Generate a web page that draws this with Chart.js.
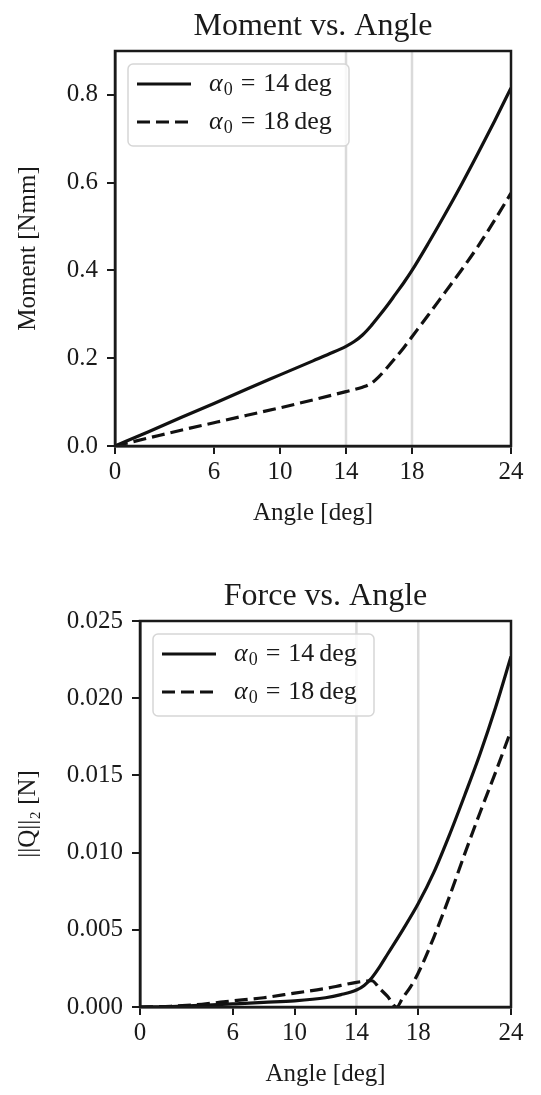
<!DOCTYPE html>
<html>
<head>
<meta charset="utf-8">
<script src="https://cdn.jsdelivr.net/npm/chart.js@4.4.1/dist/chart.umd.min.js"></script>
<style>
  body { margin: 0; background: #fff; }
  .box { position: absolute; left: 0; width: 541px; }
  #top { top: 0; height: 545px; }
  #bottom { top: 545px; height: 550px; }
</style>
</head>
<body>
<div class="box" id="top"><canvas id="momentChart"></canvas></div>
<div class="box" id="bottom"><canvas id="forceChart"></canvas></div>
<script>
// valores
const alphaZero = [14, 18];
const angleTicks = [0, 6, 10, 14, 18, 24];
const momentTicks = [0, 0.2, 0.4, 0.6, 0.8];
const forceTicks = [0, 0.005, 0.01, 0.015, 0.02, 0.025];

const momentAngles14 = [0, 2, 4, 6, 8, 10, 12, 13, 14, 14.5, 15, 15.5, 16, 16.5, 17, 17.5, 18, 19, 20, 21, 22, 23, 24];
const moment14 = [0, 0.032, 0.065, 0.097, 0.13, 0.162, 0.194, 0.21, 0.227, 0.238, 0.253, 0.273, 0.296, 0.32, 0.346, 0.372, 0.4, 0.4625, 0.528, 0.596, 0.667, 0.74, 0.816];
const momentAngles18 = [0, 2, 4, 6, 8, 10, 12, 14, 15, 15.5, 16, 16.5, 17, 17.5, 18, 19, 20, 21, 22, 23, 24];
const moment18 = [0, 0.018, 0.036, 0.053, 0.07, 0.087, 0.105, 0.124, 0.134, 0.142, 0.158, 0.179, 0.201, 0.224, 0.249, 0.299, 0.35, 0.401, 0.455, 0.514, 0.576];

const forceAngles14 = [0, 2, 4, 6, 8, 10, 12, 13, 14, 14.5, 15, 15.5, 16, 17, 18, 19, 20, 21, 22, 23, 24];
const force14 = [0, 0.00003, 0.0001, 0.0002, 0.0003, 0.0004, 0.0006, 0.0008, 0.0011, 0.0014, 0.0019, 0.0026, 0.0034, 0.005, 0.0067, 0.0087, 0.0111, 0.0137, 0.0164, 0.0194, 0.0227];
const forceAngles18 = [0, 2, 4, 6, 8, 10, 12, 13, 14, 15, 15.5, 16, 16.6, 17, 17.5, 18, 19, 20, 21, 22, 23, 24];
const force18 = [0, 0.00005, 0.00018, 0.0004, 0.0006, 0.0009, 0.0012, 0.0014, 0.0016, 0.0017, 0.0012, 0.0007, 0, 0.0006, 0.0013, 0.0022, 0.0045, 0.0071, 0.0099, 0.0126, 0.0152, 0.0179];

const SERIF = "'Liberation Serif', 'DejaVu Serif', serif";
const INK = "#1a1a1a";

Chart.defaults.font.family = SERIF;
Chart.defaults.font.size = 25;
Chart.defaults.color = INK;

const toPoints = (xs, ys) => xs.map((x, i) => ({ x: x, y: ys[i] }));

// título centrado na área do gráfico (como no matplotlib)
const titlePlugin = {
  id: "axesTitle",
  afterDraw(chart) {
    const { ctx, chartArea } = chart;
    const o = chart.options.plugins.axesTitle;
    ctx.save();
    ctx.font = "32px " + SERIF;
    ctx.fillStyle = INK;
    ctx.textAlign = "center";
    ctx.textBaseline = "alphabetic";
    ctx.fillText(o.text, (chartArea.left + chartArea.right) / 2, chartArea.top - o.gap);
    ctx.restore();
  },
};

// moldura completa (topo e direita incluídos)
const framePlugin = {
  id: "frame",
  afterDatasetsDraw(chart) {
    const { ctx, chartArea } = chart;
    ctx.save();
    ctx.lineWidth = 2.5;
    ctx.strokeStyle = INK;
    ctx.strokeRect(chartArea.left, chartArea.top, chartArea.right - chartArea.left, chartArea.bottom - chartArea.top);
    ctx.restore();
  },
};

// linhas cinzas verticais em alpha0
const markerPlugin = {
  id: "markers",
  beforeDatasetsDraw(chart) {
    const { ctx, chartArea, scales } = chart;
    ctx.save();
    ctx.lineWidth = 2.5;
    ctx.strokeStyle = "#dadada";
    alphaZero.forEach((a) => {
      const px = scales.x.getPixelForValue(a);
      ctx.beginPath();
      ctx.moveTo(px, chartArea.top);
      ctx.lineTo(px, chartArea.bottom);
      ctx.stroke();
    });
    ctx.restore();
  },
};

// legenda com subscrito
const legendPlugin = {
  id: "mathLegend",
  afterDraw(chart) {
    const { ctx, chartArea } = chart;
    const x0 = chartArea.left + 13;
    const y0 = chartArea.top + 13;
    ctx.save();
    ctx.beginPath();
    ctx.roundRect(x0, y0, 221, 82, 5);
    ctx.fillStyle = "rgba(255,255,255,0.8)";
    ctx.fill();
    ctx.lineWidth = 1.5;
    ctx.strokeStyle = "#d6d6d6";
    ctx.stroke();
    chart.data.datasets.forEach((ds, i) => {
      const cy = y0 + 20 + i * 38;
      ctx.beginPath();
      ctx.setLineDash(ds.borderDash || []);
      ctx.lineWidth = ds.borderWidth;
      ctx.strokeStyle = ds.borderColor;
      ctx.moveTo(x0 + 9, cy);
      ctx.lineTo(x0 + 63, cy);
      ctx.stroke();
      ctx.setLineDash([]);

      let tx = x0 + 81;
      ctx.fillStyle = INK;
      ctx.textBaseline = "middle";
      ctx.textAlign = "left";
      ctx.font = "italic 26px " + SERIF;
      ctx.fillText("α", tx, cy);
      tx += ctx.measureText("α").width + 1;
      ctx.font = "18px " + SERIF;
      ctx.fillText("0", tx, cy + 6);
      tx += ctx.measureText("0").width + 8;
      ctx.font = "26px " + SERIF;
      ctx.fillText("=", tx, cy);
      tx += ctx.measureText("=").width + 8;
      const num = String(alphaZero[i]);
      ctx.fillText(num, tx, cy);
      tx += ctx.measureText(num).width + 5;
      ctx.fillText("deg", tx, cy);
    });
    ctx.restore();
  },
};

function makeChart(id, cfg) {
  const ctx = document.getElementById(id).getContext("2d");
  return new Chart(ctx, {
    type: "line",
    data: {
      datasets: [
        {
          label: "α₀ = " + alphaZero[0] + " deg",
          data: toPoints(cfg.xs14, cfg.ys14),
          borderColor: "#111111",
          borderWidth: 3.2,
          pointRadius: 0,
          cubicInterpolationMode: "monotone",
        },
        {
          label: "α₀ = " + alphaZero[1] + " deg",
          data: toPoints(cfg.xs18, cfg.ys18),
          borderColor: "#111111",
          borderWidth: 3.2,
          borderDash: [13, 6],
          pointRadius: 0,
          cubicInterpolationMode: "monotone",
        },
      ],
    },
    options: {
      responsive: true,
      maintainAspectRatio: false,
      animation: false,
      layout: { padding: { left: 0, right: 30, top: cfg.padTop, bottom: cfg.padBottom } },
      plugins: {
        legend: { display: false },
        tooltip: { enabled: false },
        title: { display: false },
        axesTitle: { text: cfg.title, gap: 16 },
      },
      scales: {
        x: {
          type: "linear",
          min: 0,
          max: 24,
          afterBuildTicks: (scale) => {
            scale.ticks = angleTicks.map((v) => ({ value: v }));
          },
          afterFit: (scale) => {
            scale.height = 82;
          },
          ticks: { autoSkip: false, maxRotation: 0, padding: 3, color: INK },
          grid: { drawOnChartArea: false, drawTicks: true, tickLength: 8, color: INK, lineWidth: 2 },
          border: { display: true, color: INK, width: 2.5 },
          title: { display: true, text: "Angle [deg]", color: INK, padding: { top: 0, bottom: 0 } },
        },
        y: {
          type: "linear",
          min: 0,
          max: cfg.yMax,
          afterBuildTicks: (scale) => {
            scale.ticks = cfg.yTicks.map((v) => ({ value: v }));
          },
          afterFit: (scale) => {
            scale.width = cfg.yWidth;
          },
          ticks: {
            padding: 9,
            color: INK,
            callback: (v) => Number(v).toFixed(cfg.decimals),
          },
          grid: { drawOnChartArea: false, drawTicks: true, tickLength: 8, color: INK, lineWidth: 2 },
          border: { display: true, color: INK, width: 2.5 },
          title: { display: true, text: cfg.yLabel, color: INK, padding: { top: 13, bottom: 0 } },
        },
      },
    },
    plugins: [markerPlugin, framePlugin, legendPlugin, titlePlugin],
  });
}

makeChart("momentChart", {
  title: "Moment vs. Angle",
  padTop: 51,
  padBottom: 17,
  xs14: momentAngles14, ys14: moment14,
  xs18: momentAngles18, ys18: moment18,
  yMax: 0.9,
  yTicks: momentTicks,
  decimals: 1,
  yWidth: 115,
  yLabel: "Moment [Nmm]",
});

makeChart("forceChart", {
  title: "Force vs. Angle",
  padTop: 76,
  padBottom: 6,
  xs14: forceAngles14, ys14: force14,
  xs18: forceAngles18, ys18: force18,
  yMax: 0.025,
  yTicks: forceTicks,
  decimals: 3,
  yWidth: 140,
  yLabel: "||Q||₂ [N]",
});
</script>
</body>
</html>
